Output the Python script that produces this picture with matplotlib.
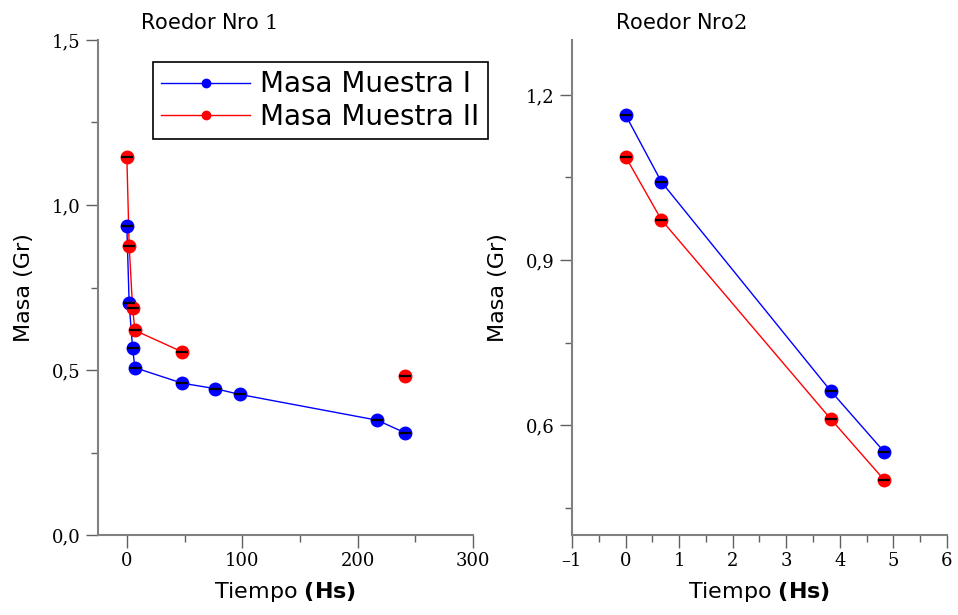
import matplotlib
matplotlib.use("Agg")
import matplotlib.pyplot as plt
from matplotlib.lines import Line2D
from matplotlib.ticker import MultipleLocator, FuncFormatter

plt.rcParams['mathtext.fontset'] = 'custom'
plt.rcParams['mathtext.rm'] = 'DejaVu Serif'
plt.rcParams['mathtext.bf'] = 'DejaVu Sans:bold'

# Roedor Nro 1
t1_m1 = [0, 2, 5, 7, 48, 76, 98, 217, 241]
masa1_m1 = [0.935, 0.702, 0.566, 0.507, 0.46, 0.444, 0.426, 0.348, 0.31]
t1_m2 = [0, 2, 5, 7, 48, 241]
masa1_m2 = [1.145, 0.877, 0.687, 0.62, 0.555, 0.483]

# Roedor Nro 2
t2 = [0, 0.67, 3.83, 4.83]
masa2_m1 = [1.164, 1.042, 0.662, 0.551]
masa2_m2 = [1.088, 0.973, 0.611, 0.500]

fig = plt.figure(figsize=(9.58, 6.15), dpi=100)
ax1 = fig.add_axes([0.1023, 0.130, 0.3914, 0.805])
ax2 = fig.add_axes([0.597, 0.130, 0.3915, 0.805])

blue = '#0000ff'
red = '#ff0000'


def pts(ax, x, y, c):
    ax.plot(x, y, 'o', color=c, ms=9, mec=c, zorder=3)
    ax.plot(x, y, '_', color='black', ms=9, mew=1.6, zorder=4)


def comma(v, p):
    return f"{v:.1f}".replace('.', ',')


# left panel
ax1.plot(t1_m1, masa1_m1, '-', color=blue, lw=1)
ax1.plot(t1_m2[:5], masa1_m2[:5], '-', color=red, lw=1)
pts(ax1, t1_m1, masa1_m1, blue)
pts(ax1, t1_m2, masa1_m2, red)
ax1.set_xlim(-25, 300)
ax1.set_ylim(0, 1.5)
ax1.xaxis.set_major_locator(MultipleLocator(100))
ax1.xaxis.set_minor_locator(MultipleLocator(50))
ax1.yaxis.set_major_locator(MultipleLocator(0.5))
ax1.yaxis.set_minor_locator(MultipleLocator(0.25))
ax1.yaxis.set_major_formatter(FuncFormatter(comma))

# right panel
ax2.plot(t2, masa2_m1, '-', color=blue, lw=1)
ax2.plot(t2, masa2_m2, '-', color=red, lw=1)
pts(ax2, t2, masa2_m1, blue)
pts(ax2, t2, masa2_m2, red)
ax2.set_xlim(-1, 6)
ax2.set_ylim(0.4, 1.3)
ax2.xaxis.set_major_locator(MultipleLocator(1))
ax2.xaxis.set_minor_locator(MultipleLocator(0.5))
ax2.yaxis.set_major_locator(MultipleLocator(0.3))
ax2.yaxis.set_minor_locator(MultipleLocator(0.15))
ax2.yaxis.set_major_formatter(FuncFormatter(comma))
ax2.xaxis.set_major_formatter(FuncFormatter(lambda v, p: f"{int(round(v))}".replace('-', '\u2013')))

for ax in (ax1, ax2):
    for s in ('top', 'right'):
        ax.spines[s].set_visible(False)
    for s in ('left', 'bottom'):
        ax.spines[s].set_color('#808080')
        ax.spines[s].set_linewidth(1.5)
    ax.tick_params(which='major', length=9, width=1, color='#606060', direction='out')
    ax.tick_params(which='minor', length=5, width=1, color='#606060', direction='out')
    for lab in ax.get_xticklabels() + ax.get_yticklabels():
        lab.set_fontfamily('DejaVu Serif')
        lab.set_fontsize(13)
    ax.set_xlabel(r"Tiempo $\mathbf{(Hs)}$", fontsize=16, family='DejaVu Sans', labelpad=7)
    ax.set_ylabel("Masa (Gr)", fontsize=16, family='DejaVu Sans', labelpad=13)

fig.text(0.146, 0.962, r"Roedor Nro $\mathrm{1}$", fontsize=15, family='DejaVu Sans', va='center')
fig.text(0.642, 0.962, r"Roedor Nro$\mathrm{2}$", fontsize=15, family='DejaVu Sans', va='center')

handles = [Line2D([], [], color=blue, lw=1, marker='o', ms=6),
           Line2D([], [], color=red, lw=1, marker='o', ms=6)]
leg = fig.legend(handles, ['Masa Muestra I', 'Masa Muestra II'],
                 loc='upper left', bbox_to_anchor=(0.1597, 0.899),
                 prop={'family': 'DejaVu Sans', 'size': 20},
                 fancybox=False, edgecolor='black', framealpha=1,
                 handlelength=3.2, borderpad=0.3, labelspacing=0.15,
                 handletextpad=0.35, borderaxespad=0)
leg.get_frame().set_linewidth(1.2)

fig.savefig('out.png', dpi=100, facecolor='white')
